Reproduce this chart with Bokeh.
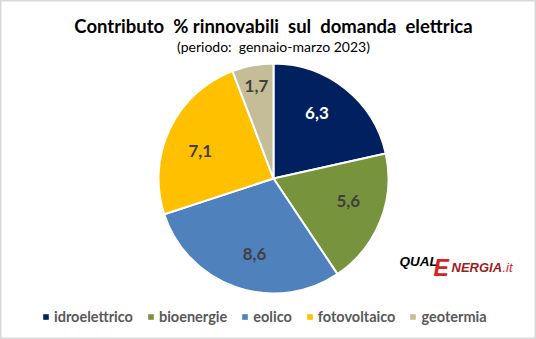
import math
from bokeh.plotting import figure
from bokeh.models import ColumnDataSource, Legend, LegendItem, Range1d
from bokeh.core.properties import value
from bokeh.embed import file_html
from bokeh.resources import INLINE

categories = ["idroelettrico", "bioenergie", "eolico", "fotovoltaico", "geotermia"]
values = [6.3, 5.6, 8.6, 7.1, 1.7]
colors = ["#002060", "#77933C", "#4F81BD", "#FFC000", "#C4BD97"]
label_colors = ["#FFFFFF", "#404040", "#404040", "#404040", "#404040"]
title = "Contributo\u00a0 %\u00a0rinnovabili\u00a0 sul\u00a0 domanda\u00a0 elettrica"
subtitle = "(periodo:\u00a0 gennaio-marzo 2023)"

W, H = 536, 339
CX, CY, R = 273, H - 178, 115

total = sum(values)
starts, ends, lx, ly, labels = [], [], [], [], []
cum = 0.0
for v in values:
    a0 = math.pi / 2 - cum / total * 2 * math.pi
    a1 = math.pi / 2 - (cum + v) / total * 2 * math.pi
    small = v / total <= 0.1
    mid = (a0 + a1) / 2 + (0 if small else math.radians(5))
    frac = 0.82 if small else 0.68
    starts.append(a0)
    ends.append(a1)
    lx.append(CX + frac * R * math.cos(mid))
    ly.append(CY + frac * R * math.sin(mid))
    labels.append(f"{v:.1f}".replace(".", ","))
    cum += v

src = ColumnDataSource(dict(cat=categories, val=values, color=colors,
                            start=starts, end=ends, x=[CX] * len(values), y=[CY] * len(values),
                            lx=lx, ly=ly, label=labels, lcolor=label_colors))

p = figure(width=W, height=H, output_backend="svg", toolbar_location=None,
           x_range=Range1d(0, W), y_range=Range1d(0, H), min_border=0,
           background_fill_color="white", border_fill_color="white")
p.axis.visible = False
p.xgrid.visible = False
p.ygrid.visible = False
p.outline_line_color = "#d9d9d9"
p.outline_line_width = 2

r = p.wedge(x="x", y="y", radius=R, start_angle="start", end_angle="end",
            direction="clock", fill_color="color", line_color="white", line_width=2,
            source=src)

p.text(x="lx", y="ly", text="label", text_color="lcolor", source=src,
       text_font=value("Lato"), text_font_style="bold", text_font_size="17px",
       text_align="center", text_baseline="middle")

# titles
p.text(x=[273], y=[H - 25], text=[title], text_font=value("Lato"), text_font_style="bold",
       text_font_size="18.5px", text_color="#000000", text_align="center", text_baseline="middle")
p.text(x=[273], y=[H - 46], text=[subtitle], text_font=value("Lato"),
       text_font_size="14px", text_color="#000000", text_align="center", text_baseline="middle")

# logo
p.text(x=[399], y=[H - 261], text=["QUAL"], text_font=value("Liberation Sans"),
       text_font_style="bold italic", text_font_size="13.5px", text_color="#000000",
       text_align="left", text_baseline="alphabetic")
p.text(x=[433], y=[H - 267], text=["E"], text_font=value("Liberation Sans"),
       text_font_style="bold italic", text_font_size="23px", text_color="#D42424",
       text_align="left", text_baseline="alphabetic")
p.text(x=[451], y=[H - 267], text=["NERGIA"], text_font=value("Liberation Sans"),
       text_font_style="bold italic", text_font_size="13px", text_color="#9A1E1E",
       text_align="left", text_baseline="alphabetic")
p.text(x=[502], y=[H - 267], text=[".it"], text_font=value("Liberation Sans"),
       text_font_style="italic", text_font_size="13px", text_color="#D42424",
       text_align="left", text_baseline="alphabetic")

# legend swatches (off-canvas renderers, only used for the legend)
items = []
for c, col in zip(categories, colors):
    sw = p.quad(left=[-20], right=[-10], top=[-10], bottom=[-20], fill_color=col, line_color=None)
    items.append(LegendItem(label=c, renderers=[sw], index=0))
legend = Legend(items=items, orientation="horizontal", location=(42, 14),
                glyph_width=7, glyph_height=7, label_standoff=5, spacing=14,
                padding=0, margin=0, border_line_color=None, background_fill_alpha=0,
                label_text_font="Lato", label_text_font_style="bold",
                label_text_font_size="14.5px", label_text_color="#595959",
                label_height=14)
p.add_layout(legend, "center")

open("out.html", "w").write(file_html(p, INLINE))
